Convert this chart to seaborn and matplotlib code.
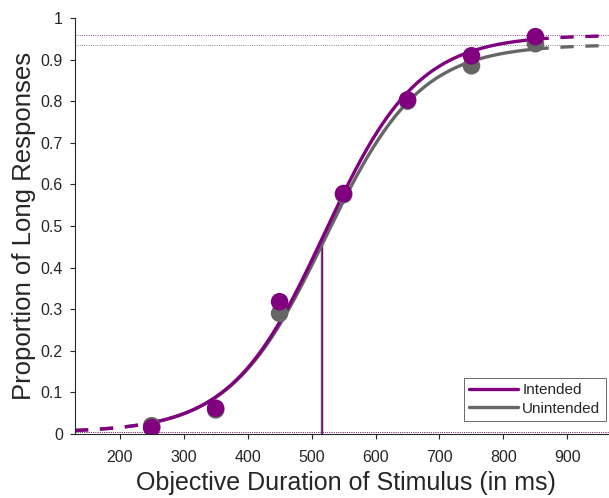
import numpy as np
import pandas as pd
import matplotlib
matplotlib.use("Agg")
import matplotlib.pyplot as plt
import seaborn as sns

# data points (proportion "long" per stimulus duration)
durations = [250, 350, 450, 550, 650, 750, 850]
p_intended = [0.015, 0.062, 0.318, 0.578, 0.803, 0.909, 0.955]
p_unintended = [0.020, 0.058, 0.290, 0.575, 0.800, 0.885, 0.938]

# fitted psychometric parameters (logistic with guess / lapse rates)
fit_intended = dict(alpha=520, scale=73, guess=0.004, lapse=0.041)
fit_unintended = dict(alpha=521, scale=74, guess=0.004, lapse=0.064)
pse_intended = 517
pse_unintended = 515

purple = "#800080"
grey = "#666666"

sns.set_theme(style="white")
plt.rcParams['font.family'] = ['Liberation Sans', 'DejaVu Sans']


def psyfun(x, alpha, scale, guess, lapse):
    x = np.asarray(x, dtype=float)
    return guess + (1 - guess - lapse) / (1 + np.exp(-(x - alpha) / scale))


fig = plt.figure(figsize=(6.09, 4.98), dpi=100)
ax = fig.add_axes([0.123, 0.1285, 0.877, 0.8355])
xmin, xmax = 130, 965

# asymptotes
for fit, col in [(fit_unintended, grey), (fit_intended, purple)]:
    ax.axhline(1 - fit['lapse'], color=col, lw=0.6, ls=':', zorder=1)
    ax.axhline(fit['guess'], color=col, lw=0.6, ls=':', zorder=1)

curves = []
for name, fit in [("Unintended", fit_unintended), ("Intended", fit_intended)]:
    xs = np.linspace(durations[0], durations[-1], 300)
    curves.append(pd.DataFrame({"x": xs, "p": psyfun(xs, **fit), "cond": name}))
df_curve = pd.concat(curves)

# dashed extrapolation + PSE lines
for fit, pse, col in [(fit_unintended, pse_unintended, grey), (fit_intended, pse_intended, purple)]:
    for a, b in [(xmin, durations[0]), (durations[-1], xmax)]:
        xs = np.linspace(a, b, 60)
        ax.plot(xs, psyfun(xs, **fit), color=col, lw=2.4, ls=(0, (4, 3.5)), zorder=2)
    ax.vlines(pse, 0, psyfun(pse, **fit), color=col, lw=1.0, zorder=2)

pal = {"Unintended": grey, "Intended": purple}
sns.lineplot(data=df_curve, x="x", y="p", hue="cond", palette=pal,
             lw=2.4, ax=ax, legend=False, zorder=3, estimator=None, sort=False)

df_pts = pd.DataFrame({"x": durations * 2, "p": p_unintended + p_intended,
                       "cond": ["Unintended"] * 7 + ["Intended"] * 7})
sns.scatterplot(data=df_pts, x="x", y="p", hue="cond", palette=pal,
                s=160, edgecolor="none", ax=ax, legend=False, zorder=4)

ax.set_xlim(xmin, xmax)
ax.set_ylim(0, 1)
ax.set_xticks(range(200, 1000, 100))
ax.set_yticks(np.arange(0, 1.01, 0.1))
ax.set_yticklabels(["0"] + [f"{v:.1f}" for v in np.arange(0.1, 0.95, 0.1)] + ["1"])
ax.tick_params(axis="both", direction="out", length=3.6, width=0.8, color="#262626",
               labelsize=11.5, labelcolor="#262626", bottom=True, left=True)
ax.tick_params(axis="x", pad=8)
ax.tick_params(axis="y", pad=5)
for s in ["top", "right"]:
    ax.spines[s].set_visible(False)
for s in ["left", "bottom"]:
    ax.spines[s].set_color("#262626")
    ax.spines[s].set_linewidth(0.8)

ax.set_xlabel("Objective Duration of Stimulus (in ms)", fontsize=18, color="#262626")
ax.set_ylabel("Proportion of Long Responses", fontsize=18.5, color="#262626", labelpad=3)
ax.xaxis.set_label_coords(0.507, -0.09, transform=ax.transAxes)
ax.xaxis.label.set_va("top")

h1, = ax.plot([], [], color=purple, lw=2.4, label="Intended")
h2, = ax.plot([], [], color=grey, lw=2.4, label="Unintended")
leg = ax.legend(handles=[h1, h2], loc="lower right", bbox_to_anchor=(0.994, 0.031), fontsize=11,
                frameon=True, fancybox=False, edgecolor="#262626", handlelength=3.2,
                handletextpad=0.27, borderpad=0.35, labelspacing=0.3, borderaxespad=0)
leg.get_frame().set_linewidth(0.6)

fig.savefig("out.png", dpi=100)
